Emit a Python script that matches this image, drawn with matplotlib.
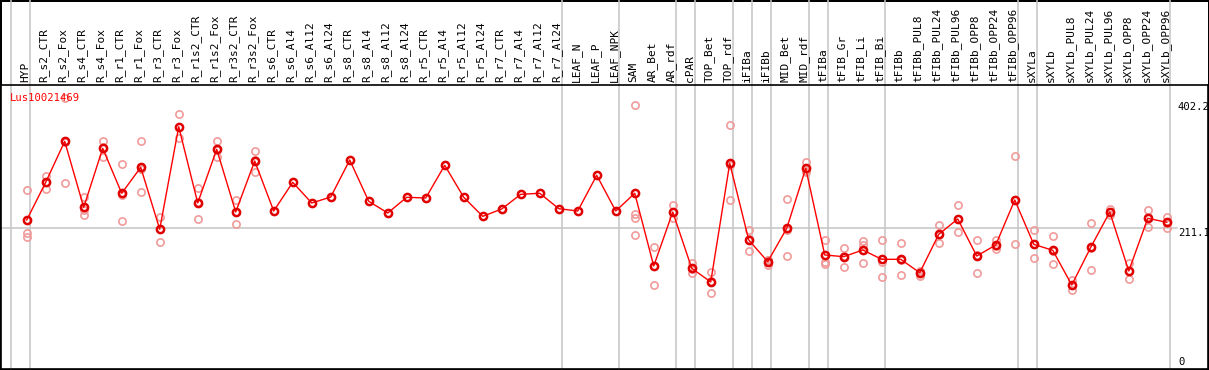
import matplotlib
matplotlib.use("Agg")
import matplotlib.pyplot as plt
import matplotlib.transforms as mtransforms

gene_id = "Lus10021469"

samples = [
    "HYP",
    "R_s2_CTR", "R_s2_Fox", "R_s4_CTR", "R_s4_Fox", "R_r1_CTR", "R_r1_Fox",
    "R_r3_CTR", "R_r3_Fox", "R_r1s2_CTR", "R_r1s2_Fox", "R_r3s2_CTR", "R_r3s2_Fox",
    "R_s6_CTR", "R_s6_Al4", "R_s6_Al12", "R_s6_Al24",
    "R_s8_CTR", "R_s8_Al4", "R_s8_Al12", "R_s8_Al24",
    "R_r5_CTR", "R_r5_Al4", "R_r5_Al12", "R_r5_Al24",
    "R_r7_CTR", "R_r7_Al4", "R_r7_Al12", "R_r7_Al24",
    "LEAF_N", "LEAF_P", "LEAF_NPK",
    "SAM", "AR_Bet", "AR_rdf", "cPAR", "TOP_Bet", "TOP_rdf", "iFIBa", "iFIBb",
    "MID_Bet", "MID_rdf",
    "tFIBa", "tFIB_Gr", "tFIB_Li", "tFIB_Bi", "tFIBb",
    "tFIBb_PUL8", "tFIBb_PUL24", "tFIBb_PUL96", "tFIBb_OPP8", "tFIBb_OPP24", "tFIBb_OPP96",
    "sXYLa", "sXYLb",
    "sXYLb_PUL8", "sXYLb_PUL24", "sXYLb_PUL96", "sXYLb_OPP8", "sXYLb_OPP24", "sXYLb_OPP96",
]

means = [
    223.1,
    280.5, 342.9, 242.4, 332.2, 263.8, 303.3,
    209.0, 365.2, 249.0, 330.7, 235.3, 312.9,
    236.8, 280.5, 249.0, 258.1,
    314.5, 251.6, 233.8, 257.7,
    256.6, 306.4, 257.7, 228.7,
    239.9, 262.2, 263.8, 240.4,
    236.8, 291.2, 236.8,
    263.8, 153.1, 235.3, 149.6, 128.8, 309.4, 192.7, 159.7,
    210.5, 301.8,
    169.9, 167.3, 177.5, 163.3, 163.3,
    142.9, 201.4, 224.7, 168.3, 185.1, 253.6,
    186.1, 177.0,
    124.2, 181.6, 235.3, 145.5, 225.7, 219.6,
]

replicates = [
    [268.5, 202.9, 197.7],
    [290.1, 269.9, 281.5], [408.4, 279.0, 341.3], [257.7, 230.7, 238.8],
    [343.4, 319.5, 333.7], [308.4, 221.1, 261.9], [343.4, 265.8, 300.7],
    [228.2, 189.2, 209.6], [384.0, 347.5, 364.0], [271.4, 224.7, 251.0],
    [343.4, 318.6, 330.0], [253.6, 217.0, 235.3], [328.2, 296.7, 313.8],
    [], [], [], [],
    [], [], [], [],
    [], [], [], [],
    [], [], [], [],
    [], [], [],
    [398.2, 231.8, 225.7, 200.3], [181.6, 124.2, 153.5], [245.5, 225.7, 234.7],
    [157.2, 142.9, 148.7], [144.4, 111.6, 130.4], [367.3, 253.6, 307.3],
    [207.9, 175.5, 194.7], [162.3, 154.6, 162.0],
    [255.1, 168.3, 208.0], [311.9, 297.7, 295.8],
    [192.7, 159.7, 155.7], [181.0, 151.6, 169.0], [191.2, 185.0, 157.2],
    [192.2, 159.7, 135.9], [188.1, 139.4, 162.4],
    [146.0, 138.4, 144.3], [215.5, 187.7, 201.0], [245.5, 204.4, 224.2],
    [192.2, 142.5, 170.0], [192.7, 178.5, 184.0], [320.5, 186.1, 254.0],
    [207.5, 164.8, 186.0], [198.8, 156.2, 176.0],
    [131.8, 116.6, 124.0], [218.1, 146.6, 180.0], [240.4, 230.3, 235.0],
    [157.2, 133.8, 145.0], [237.9, 212.0, 227.0], [228.2, 211.4, 219.0],
]

# group separators sit after these sample indices
separators_after = [-1, 0, 28, 31, 34, 35, 37, 38, 39, 41, 42, 45, 52, 53, 60]

y_ticks = [0, 211.1, 402.2]

W, H = 1209, 370
fig = plt.figure(figsize=(W / 100, H / 100), dpi=100)
fig.patch.set_edgecolor("black")
fig.patch.set_linewidth(2)

ax_top_px, ax_bot_px = 85, 369
ax = fig.add_axes([1 / W, (H - ax_bot_px) / H, 1207 / W, (ax_bot_px - ax_top_px) / H])
ax.set_xlim(-1.353, 62.17)
ax.set_ylim(-3.65, 428.6)

for s in ax.spines.values():
    s.set_color("black")
    s.set_linewidth(1.2)

x = list(range(len(samples)))

# separators, running up through the label strip
ext = ax_bot_px / (ax_bot_px - ax_top_px)
for i in separators_after:
    ax.axvline(i + 0.19, ymin=0, ymax=ext, color="#c4c4c4", linewidth=1.1,
               clip_on=False, zorder=1)

ax.axhline(211.1, xmin=0, xmax=(1177 - 1) / 1207, color="#c4c4c4", linewidth=1.1, zorder=1)

rep_x = [i for i, r in enumerate(replicates) for _ in r]
rep_y = [v for r in replicates for v in r]
ax.plot(rep_x, rep_y, "o", markersize=5.2, markerfacecolor="none",
        markeredgecolor="#f09a9a", markeredgewidth=1.2, zorder=2)

ax.plot(x, means, "-", color="red", linewidth=1.0, zorder=3)
ax.plot(x, means, "o", markersize=5.2, markerfacecolor="none",
        markeredgecolor="#e00000", markeredgewidth=1.8, zorder=4)

ax.xaxis.tick_top()
ax.set_xticks([i - 0.08 for i in x])
ax.set_xticklabels(samples, rotation=90, fontfamily="DejaVu Sans Mono", fontsize=8.0,
                   va="bottom", ha="center")
ax.tick_params(axis="x", length=0, pad=2)
ax.set_yticks([])

trans = mtransforms.blended_transform_factory(ax.transAxes, ax.transData)
label_x = (1178 - 1) / 1207
for v in y_ticks:
    ax.text(label_x, v, f"{v:g}", transform=trans, ha="left",
            va="bottom" if v == 0 else "top",
            fontfamily="DejaVu Sans Mono", fontsize=7.6, color="black")

ax.text((10 - 1) / 1207, (ax_bot_px - 98) / (ax_bot_px - ax_top_px), gene_id,
        transform=ax.transAxes, ha="left", va="center", color="red",
        fontfamily="DejaVu Sans Mono", fontsize=7.6)

fig.savefig("out.png", dpi=100)
